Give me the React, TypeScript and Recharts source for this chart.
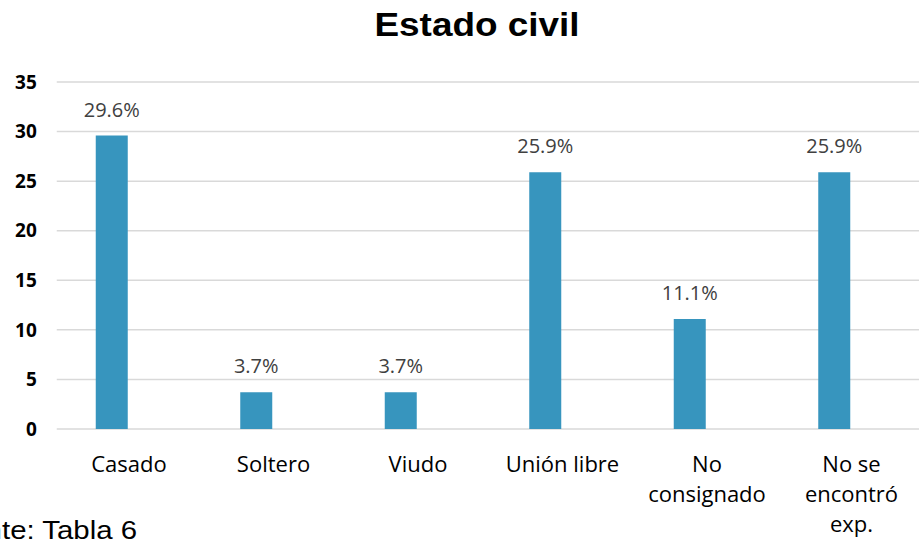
import { BarChart, Bar, XAxis, YAxis, CartesianGrid, LabelList } from "recharts";

const categories = [
  "Casado",
  "Soltero",
  "Viudo",
  "Unión libre",
  "No\nconsignado",
  "No se\nencontró\nexp.",
];
const percentages = [29.6, 3.7, 3.7, 25.9, 11.1, 25.9];
const yTicks = [0, 5, 10, 15, 20, 25, 30, 35];

const data = categories.map((name, i) => ({ name, value: percentages[i] }));

const barColor = "#3795be";
const font = "'Open Sans', sans-serif";

function CategoryTick({ x, y, payload }: any) {
  const lines = String(payload.value).split("\n");
  return (
    <text x={x} y={y + 43} textAnchor="middle" fill="#000" fontFamily={font} fontSize={22}>
      {lines.map((line, i) => (
        <tspan key={i} x={x} dy={i === 0 ? 0 : 30}>
          {line}
        </tspan>
      ))}
    </text>
  );
}

export default function App() {
  return (
    <div
      style={{
        position: "absolute",
        left: 0,
        top: 0,
        width: 919,
        height: 544,
        overflow: "hidden",
        background: "#fff",
      }}
    >
      <BarChart
        width={930}
        height={544}
        data={data}
        margin={{ top: 82, right: 6.25, bottom: 85, left: 0 }}
        barSize={32}
        barGap={2}
      >
        <CartesianGrid vertical={false} stroke="#d9d9d9" strokeWidth={1.5} />
        <YAxis
          width={56.75}
          domain={[0, 35]}
          ticks={yTicks}
          interval={0}
          axisLine={false}
          tickLine={false}
          tickSize={0}
          tickMargin={20}
          tick={{ fill: "#000", fontSize: 19, fontWeight: 700, fontFamily: font }}
        />
        <XAxis
          dataKey="name"
          height={30}
          interval={0}
          axisLine={false}
          tickLine={false}
          tickSize={0}
          tickMargin={0}
          tick={<CategoryTick />}
        />
        <Bar dataKey="value" fill={barColor} isAnimationActive={false}>
          <LabelList
            dataKey="value"
            position="top"
            offset={19}
            formatter={(v: any) => `${Number(v).toFixed(1)}%`}
            fill="#404040"
            fontSize={20}
            fontFamily={font}
          />
        </Bar>
        {/* empty second slot, like the Excel layout that pushes bars left of the label */}
        <Bar dataKey="value" fill="none" isAnimationActive={false} />
      </BarChart>
      <svg
        width={919}
        height={544}
        style={{ position: "absolute", left: 0, top: 0, pointerEvents: "none" }}
      >
        <text
          x={477}
          y={36}
          textAnchor="middle"
          fontFamily="'Liberation Sans', Arial, sans-serif"
          fontWeight={700}
          fontSize={33}
          textLength={205}
          lengthAdjust="spacingAndGlyphs"
          fill="#000"
        >
          Estado civil
        </text>
        <text
          x={-65}
          y={539}
          fontFamily="'Liberation Sans', Arial, sans-serif"
          fontSize={26}
          textLength={202}
          lengthAdjust="spacingAndGlyphs"
          fill="#000"
        >
          Fuente: Tabla 6
        </text>
      </svg>
    </div>
  );
}
